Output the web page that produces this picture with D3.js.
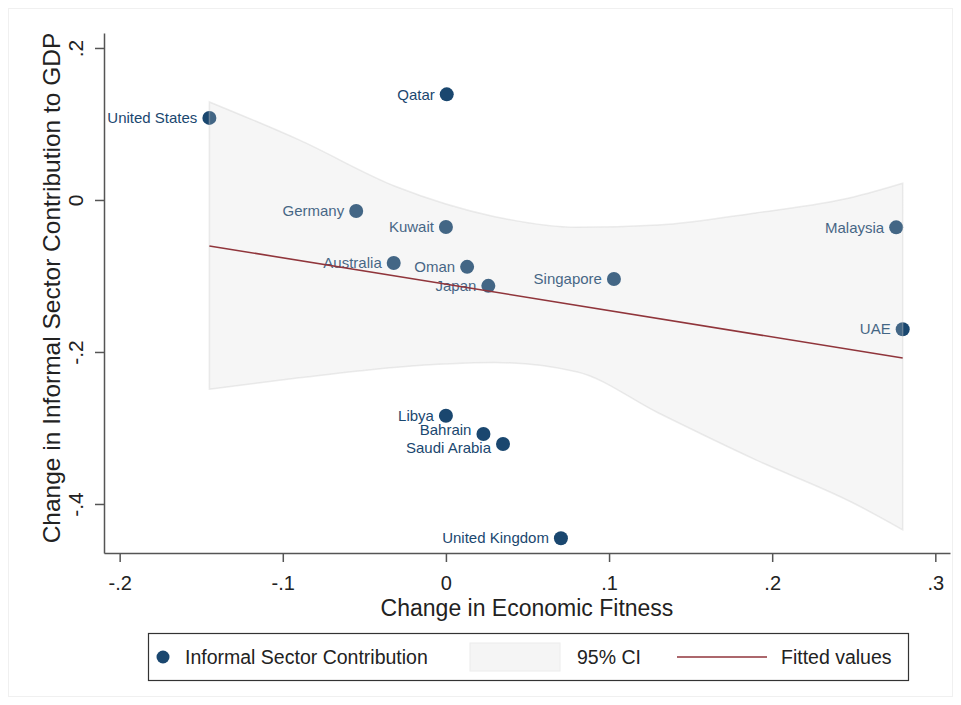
<!DOCTYPE html>
<html>
<head>
  <meta charset="utf-8">
  <script src="https://cdn.jsdelivr.net/npm/d3@7"></script>
</head>
<style>
  body { margin: 0; background: #fff; }
  svg { font-family: "Liberation Sans", Arial, sans-serif; }
</style>
<body>
  <svg id="chart" width="961" height="705"></svg>
  <script type="text/javascript">
    // data
    var countries = ["Qatar", "United States", "Germany", "Kuwait", "Australia", "Oman", "Japan",
                     "Singapore", "Malaysia", "UAE", "Libya", "Bahrain", "Saudi Arabia", "United Kingdom"];
    var fitness = [0.0005, -0.145, -0.055, 0.0, -0.032, 0.013, 0.026,
                   0.103, 0.276, 0.280, 0.0, 0.023, 0.035, 0.0705];
    var informal = [0.139, 0.108, -0.0145, -0.0355, -0.083, -0.088, -0.113,
                    -0.104, -0.036, -0.170, -0.284, -0.308, -0.321, -0.445];

    // 95% CI band
    var ciX = [-0.145, -0.09, -0.03, 0.03, 0.08, 0.13, 0.19, 0.25, 0.28];
    var ciUpper = [0.129, 0.079, 0.017, -0.022, -0.036, -0.033, -0.017, 0.004, 0.022];
    var ciLower = [-0.249, -0.234, -0.220, -0.214, -0.226, -0.280, -0.342, -0.399, -0.434];

    // fitted line
    var fitX = [-0.145, 0.28];
    var fitY = [-0.0605, -0.208];

    var xTicks = [-0.2, -0.1, 0, 0.1, 0.2, 0.3];
    var xTickLabels = ["-.2", "-.1", "0", ".1", ".2", ".3"];
    var yTicks = [-0.4, -0.2, 0, 0.2];
    var yTickLabels = ["-.4", "-.2", "0", ".2"];

    var navy = "#1a476f";
    var maroon = "#90353b";
    // small vertical nudges so the two crowded labels don't collide
    var labelNudge = {"Bahrain": -4, "Saudi Arabia": 4};

    var svg = d3.select("#chart");

    // faint outer frame
    svg.append("rect")
      .attr("x", 8.5).attr("y", 8.5)
      .attr("width", 944).attr("height", 688)
      .attr("fill", "none")
      .attr("stroke", "#f0f0f0");

    var x = d3.scaleLinear()
      .domain([-0.2096, 0.309])
      .range([104, 950]);
    var y = d3.scaleLinear()
      .domain([-0.4645, 0.2197])
      .range([553, 33]);

    // points
    var pts = countries.map(function(c, i) { return {name: c, x: fitness[i], y: informal[i]}; });

    svg.selectAll("circle.pt")
      .data(pts)
      .enter()
      .append("circle")
      .attr("class", "pt")
      .attr("cx", function(d) { return x(d.x); })
      .attr("cy", function(d) { return y(d.y); })
      .attr("r", 7)
      .attr("fill", navy);

    svg.selectAll("text.lab")
      .data(pts)
      .enter()
      .append("text")
      .attr("class", "lab")
      .attr("x", function(d) { return x(d.x) - 12; })
      .attr("y", function(d) { return y(d.y) + (labelNudge[d.name] || 0); })
      .attr("dy", "0.35em")
      .attr("text-anchor", "end")
      .attr("font-size", 15)
      .attr("fill", navy)
      .text(function(d) { return d.name; });

    // CI band drawn over the points (semi transparent, as in Stata)
    var band = ciX.map(function(v, i) { return {x: v, lo: ciLower[i], hi: ciUpper[i]}; });
    var area = d3.area()
      .x(function(d) { return x(d.x); })
      .y0(function(d) { return y(d.lo); })
      .y1(function(d) { return y(d.hi); })
      .curve(d3.curveMonotoneX);
    svg.append("path")
      .attr("d", area(band))
      .attr("fill", "rgb(216,216,216)")
      .attr("fill-opacity", 0.22)
      .attr("stroke", "rgb(200,200,200)")
      .attr("stroke-opacity", 0.35)
      .attr("stroke-width", 1.5);

    // fitted values
    var line = d3.line()
      .x(function(d) { return x(d[0]); })
      .y(function(d) { return y(d[1]); });
    svg.append("path")
      .attr("d", line(fitX.map(function(v, i) { return [v, fitY[i]]; })))
      .attr("fill", "none")
      .attr("stroke", maroon)
      .attr("stroke-width", 1.6);

    // axes
    var xAxis = d3.axisBottom(x)
      .tickValues(xTicks)
      .tickSize(9)
      .tickSizeOuter(0)
      .tickFormat(function(d, i) { return xTickLabels[i]; });
    var gx = svg.append("g")
      .attr("transform", "translate(0,553)")
      .call(xAxis);
    gx.selectAll("path, line").attr("stroke", "#555").attr("stroke-width", 1.5);
    gx.selectAll("text")
      .attr("y", 37)
      .attr("dy", 0)
      .attr("font-size", 20)
      .attr("font-family", "Liberation Sans, Arial, sans-serif")
      .attr("fill", "#222");

    var yAxis = d3.axisLeft(y)
      .tickValues(yTicks)
      .tickSize(9)
      .tickSizeOuter(0)
      .tickFormat(function(d, i) { return yTickLabels[i]; });
    var gy = svg.append("g")
      .attr("transform", "translate(104,0)")
      .call(yAxis);
    gy.selectAll("path, line").attr("stroke", "#555").attr("stroke-width", 1.5);
    gy.selectAll("text")
      .attr("x", 0)
      .attr("dy", 0)
      .attr("text-anchor", "middle")
      .attr("transform", "translate(-21,0) rotate(-90)")
      .attr("font-size", 21)
      .attr("font-family", "Liberation Sans, Arial, sans-serif")
      .attr("fill", "#222");

    // axis titles
    svg.append("text")
      .attr("x", 527)
      .attr("y", 616)
      .attr("text-anchor", "middle")
      .attr("font-size", 23)
      .attr("fill", "#222")
      .text("Change in Economic Fitness");
    svg.append("text")
      .attr("transform", "translate(60,288) rotate(-90)")
      .attr("text-anchor", "middle")
      .attr("font-size", 24.5)
      .attr("fill", "#222")
      .text("Change in Informal Sector Contribution to GDP");

    // legend
    var lg = svg.append("g");
    lg.append("rect")
      .attr("x", 148.5).attr("y", 633.5)
      .attr("width", 760).attr("height", 47)
      .attr("fill", "#fff")
      .attr("stroke", "#333")
      .attr("stroke-width", 1.2);
    lg.append("circle")
      .attr("cx", 163).attr("cy", 657).attr("r", 6.5)
      .attr("fill", navy);
    lg.append("text")
      .attr("x", 185).attr("y", 657).attr("dy", "0.35em")
      .attr("font-size", 19.5).attr("fill", "#222")
      .text("Informal Sector Contribution");
    lg.append("rect")
      .attr("x", 470).attr("y", 643)
      .attr("width", 90).attr("height", 28)
      .attr("fill", "#f5f5f5")
      .attr("stroke", "#ececec");
    lg.append("text")
      .attr("x", 577).attr("y", 657).attr("dy", "0.35em")
      .attr("font-size", 19.5).attr("fill", "#222")
      .text("95% CI");
    lg.append("line")
      .attr("x1", 677).attr("x2", 767)
      .attr("y1", 657).attr("y2", 657)
      .attr("stroke", maroon).attr("stroke-width", 1.6);
    lg.append("text")
      .attr("x", 781).attr("y", 657).attr("dy", "0.35em")
      .attr("font-size", 19.5).attr("fill", "#222")
      .text("Fitted values");
  </script>
</body>
</html>
